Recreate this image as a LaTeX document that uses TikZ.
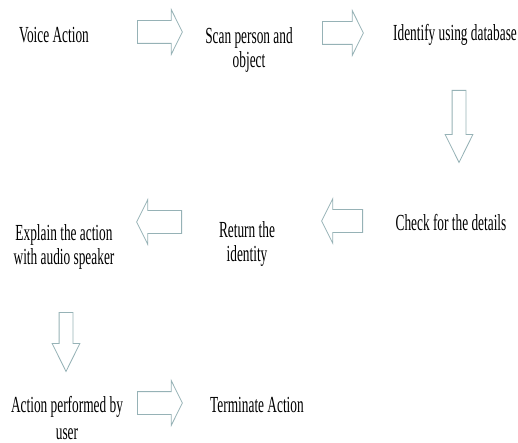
\documentclass[tikz,border=0pt]{standalone}
\usepackage{fontspec}
\setmainfont[FakeStretch=0.58]{Liberation Serif}
\usetikzlibrary{shapes.arrows}
\definecolor{arrowline}{RGB}{150,178,182}

\begin{document}
\begin{tikzpicture}[x=1pt, y=-1pt, every node/.style={font=\fontsize{23}{24}\selectfont},
    steptext/.style={inner sep=0pt, anchor=north, align=center},
    hblock/.style={single arrow, draw=arrowline, line width=0.8pt, inner sep=0pt, inner ysep=11pt,
        minimum width=0pt, single arrow head extend=11pt, single arrow tip angle=127, anchor=tail},
    vblock/.style={hblock, inner ysep=6.5pt, single arrow head extend=7pt, single arrow tip angle=53}]
    \useasboundingbox (0,0) rectangle (518,443);

    % ==================== ROW 1 ====================
    \node[steptext] (voice) at (54,27) {Voice Action};
    \node[steptext] (scan) at (249,27) {Scan person and\\object};
    \node[steptext] (identify) at (455,24) {Identify using database};

    \node[hblock, minimum height=45pt] (a1) at (137,32) {};
    \node[hblock, minimum height=41pt] (a2) at (322,33) {};
    \node[vblock, minimum height=72pt, rotate=-90] (a3) at (459,90) {};

    % ==================== ROW 2 ====================
    \node[steptext] (check) at (451,214) {Check for the details};
    \node[steptext] (return) at (247,221) {Return the\\identity};
    \node[steptext] (explain) at (64,224) {Explain the action\\with audio speaker};

    \node[hblock, minimum height=41pt, rotate=180] (a4) at (363,221) {};
    \node[hblock, minimum height=45pt, rotate=180] (a5) at (182,222) {};
    \node[vblock, minimum height=59pt, rotate=-90] (a6) at (66,312) {};

    % ==================== ROW 3 ====================
    \node[steptext] (perform) at (67,396) {Action performed by\\[3pt]user};
    \node[steptext] (terminate) at (257,397) {Terminate Action};

    \node[hblock, minimum height=45pt] (a7) at (137,403) {};
\end{tikzpicture}
\end{document}
